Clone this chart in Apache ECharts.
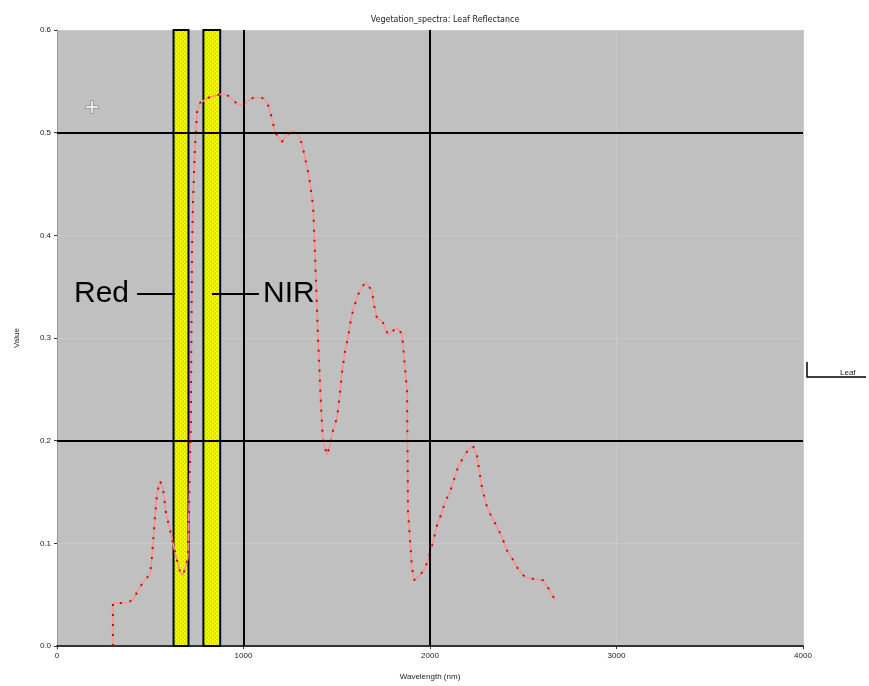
<!DOCTYPE html>
<html>
<head>
<meta charset="utf-8">
<title>Spectral profile</title>
<script src="https://cdn.jsdelivr.net/npm/echarts@6/dist/echarts.min.js"></script>
<style>
  html, body { margin: 0; padding: 0; background: #fff; }
  #main { width: 869px; height: 686px; }
</style>
</head>
<body>
<div id="main"></div>
<script>
// wavelength (nm) and reflectance
var wavelength = [300, 300, 375, 408, 434, 461, 499, 509, 525, 536, 552, 568, 584, 606, 633, 660, 676, 702, 718, 724, 729, 740,
  751, 767, 810, 847, 890, 917, 944, 965, 992, 1024, 1051, 1099, 1126, 1142, 1158, 1174, 1206, 1228, 1265, 1292, 1314,
  1330, 1351, 1373, 1383, 1399, 1416, 1426, 1448, 1464, 1480, 1501, 1517, 1528, 1544, 1560, 1571, 1587, 1614, 1635,
  1657, 1689, 1700, 1716, 1743, 1764, 1775, 1802, 1823, 1850, 1861, 1877, 1882, 1903, 1914, 1946, 1973, 1989, 2016,
  2038, 2064, 2080, 2107, 2123, 2150, 2177, 2204, 2231, 2252, 2263, 2279, 2306, 2332, 2359, 2386, 2413, 2445, 2472,
  2509, 2563, 2606, 2643, 2670];
var reflectance = [0.0, 0.042, 0.042, 0.045, 0.054, 0.062, 0.070, 0.086, 0.125, 0.148, 0.161, 0.154, 0.130, 0.113, 0.091, 0.072, 0.069, 0.086, 0.222, 0.387, 0.433, 0.487,
  0.520, 0.529, 0.534, 0.536, 0.538, 0.536, 0.532, 0.528, 0.527, 0.531, 0.534, 0.534, 0.530, 0.521, 0.509, 0.499, 0.491, 0.497, 0.502, 0.499, 0.489,
  0.475, 0.458, 0.429, 0.384, 0.303, 0.232, 0.200, 0.186, 0.196, 0.210, 0.222, 0.245, 0.266, 0.287, 0.300, 0.313, 0.327, 0.342, 0.350,
  0.354, 0.346, 0.332, 0.319, 0.317, 0.308, 0.303, 0.307, 0.310, 0.304, 0.281, 0.249, 0.132, 0.077, 0.064, 0.069, 0.075, 0.084, 0.101,
  0.118, 0.130, 0.140, 0.150, 0.159, 0.174, 0.183, 0.191, 0.195, 0.185, 0.172, 0.154, 0.135, 0.125, 0.116, 0.106, 0.093, 0.084, 0.075,
  0.067, 0.065, 0.064, 0.054, 0.045];

var xTicks = [0, 1000, 2000, 3000, 4000];
var yTicks = [0, 0.1, 0.2, 0.3, 0.4, 0.5, 0.6];
var refLinesX = [1000, 2000];
var refLinesY = [0.2, 0.5];
var redBand = [625, 705];
var nirBand = [785, 875];
var redLabel = [[429, 0.343], [633, 0.343]];
var nirLabel = [[831, 0.343], [1083, 0.343]];
var cursorPoint = [[188, 0.525]];

var pts = wavelength.map(function (w, i) { return [w, reflectance[i]]; });

// yellow dotted fill for the band boxes
var pat = document.createElement('canvas');
pat.width = 4; pat.height = 4;
var pc = pat.getContext('2d');
pc.fillStyle = '#c8c8b0';
pc.fillRect(0, 0, 4, 4);
pc.fillStyle = '#ffff00';
pc.fillRect(0, 0, 1, 4);
pc.fillRect(2, 0, 1, 4);
pc.fillRect(1, 1, 1, 1);
pc.fillRect(3, 3, 1, 1);
pc.fillStyle = '#c0c0c0';
pc.fillRect(0, 3, 1, 1);
pc.fillRect(2, 1, 1, 1);

var myChart = echarts.init(document.getElementById('main'));
myChart.setOption({
  animation: false,
  backgroundColor: '#fff',
  title: {
    text: 'Vegetation_spectra: Leaf Reflectance',
    left: 440, top: 11, textAlign: 'center',
    textStyle: { fontSize: 8, fontWeight: 'normal', color: '#222', fontFamily: 'DejaVu Sans' }
  },
  legend: {
    data: ['Leaf'], left: 830, top: 361, icon: 'none', itemWidth: 0, itemGap: 0,
    textStyle: { fontSize: 8, color: '#222' }
  },
  graphic: [{
    type: 'polyline', silent: true,
    shape: { points: [[807, 362], [807, 377], [866, 377]] },
    style: { stroke: '#000', lineWidth: 1.5, fill: null }
  }],
  grid: {
    left: 57, right: 66, top: 30, bottom: 37,
    show: true, backgroundColor: '#c0c0c0', borderWidth: 0
  },
  xAxis: {
    type: 'value', min: xTicks[0], max: xTicks[xTicks.length - 1], interval: 1000,
    name: 'Wavelength (nm)', nameLocation: 'middle', nameGap: 27,
    nameTextStyle: { fontSize: 8, color: '#222' },
    axisLine: { show: true, onZero: false, lineStyle: { color: '#333', width: 2 } },
    axisTick: { show: true, length: 3, lineStyle: { color: '#333' } },
    axisLabel: { fontSize: 8, color: '#222', margin: 6, formatter: function (v) { return String(v); } },
    splitLine: { show: true, lineStyle: { color: '#c9c9c9', width: 1 } }
  },
  yAxis: {
    type: 'value', min: yTicks[0], max: yTicks[yTicks.length - 1], interval: 0.1,
    name: 'Value', nameLocation: 'middle', nameGap: 36, nameRotate: 90,
    nameTextStyle: { fontSize: 8, color: '#222' },
    axisLine: { show: true, onZero: false, lineStyle: { color: '#999', width: 1 } },
    axisTick: { show: true, length: 3, lineStyle: { color: '#333' } },
    axisLabel: { fontSize: 8, color: '#222', margin: 6, formatter: function (v) { return v.toFixed(1); } },
    splitLine: { show: true, lineStyle: { color: '#c9c9c9', width: 1 } }
  },
  series: [
    {
      // reference grid lines and band boxes
      type: 'line', data: [], silent: true, z: 1,
      markLine: {
        silent: true, symbol: 'none', animation: false,
        label: { show: false },
        lineStyle: { color: '#000', width: 2, type: 'solid' },
        data: refLinesX.map(function (v) { return { xAxis: v }; })
          .concat(refLinesY.map(function (v) { return { yAxis: v }; }))
      },
      markArea: {
        silent: true,
        itemStyle: { color: { image: pat, repeat: 'repeat' }, borderColor: '#000', borderWidth: 2 },
        data: [
          [{ xAxis: redBand[0] }, { xAxis: redBand[1] }],
          [{ xAxis: nirBand[0] }, { xAxis: nirBand[1] }]
        ]
      }
    },
    {
      name: 'Leaf', type: 'line', data: pts, z: 3,
      showSymbol: false, symbol: 'none',
      itemStyle: { color: '#ff8f8f' },
      lineStyle: { color: '#ff8f8f', width: 1.5 }
    },
    {
      name: 'dash', type: 'line', data: pts, z: 4, silent: true,
      showSymbol: false, symbol: 'none',
      lineStyle: { color: '#a81818', width: 2, type: [2, 8] }
    },
    {
      // Red / NIR callouts
      type: 'line', data: [], silent: true, z: 5,
      markLine: {
        silent: true, symbol: 'none', animation: false,
        lineStyle: { color: '#000', width: 2, type: 'solid' },
        data: [
          [{ coord: redLabel[0], label: { show: true, position: 'start', formatter: 'Red', distance: 8 } }, { coord: redLabel[1] }],
          [{ coord: nirLabel[0], label: { show: true, position: 'end', formatter: 'NIR', distance: 4 } }, { coord: nirLabel[1] }]
        ],
        label: { fontSize: 30, color: '#000', fontFamily: 'Liberation Sans' }
      }
    },
    {
      type: 'scatter', data: cursorPoint, z: 6, silent: true,
      symbol: 'path://M4,0h2v4h4v2h-4v4h-2v-4h-4v-2h4z', symbolSize: 13,
      itemStyle: { color: '#fff', borderColor: '#444', borderWidth: 0.5 }
    }
  ]
});
window.addEventListener('resize', function () {
  myChart.resize();
});
</script>
</body>
</html>
